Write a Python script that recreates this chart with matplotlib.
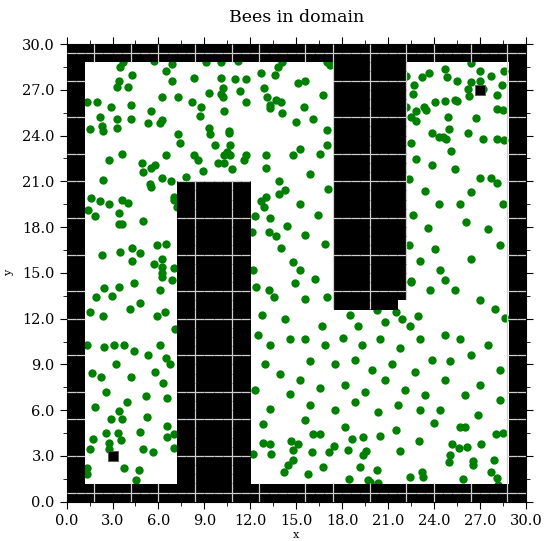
import numpy as np
import matplotlib.pyplot as plt
from matplotlib.collections import LineCollection
from matplotlib.ticker import MultipleLocator, FormatStrFormatter

# --- domain: 50 x 50 cells of 0.6 ---
cell = 0.6
n_cells = 50
# wall blocks (col0, col1, row0, row1), end exclusive
walls = [
    (0, 50, 0, 2), (0, 50, 48, 50), (0, 2, 0, 50), (48, 50, 0, 50),
    (12, 20, 0, 35),
    (29, 36, 21, 48),
    (36, 37, 22, 48),
]
# cell boundaries where the wall image shows light seams
seam_cols = [3, 7, 10, 14, 18, 21, 26, 29, 33, 37, 40, 44, 48]
seam_rows = [1, 5, 9, 12, 16, 20, 23, 27, 31, 35, 38, 42, 46, 49]

# hives (black squares)
hive_x = [3.0, 27.0]
hive_y = [3.0, 27.0]

# bee positions, region by region
# top-left part
bees_tl_x = [3.5, 3.7, 5.7, 6.9, 9.1, 10.1, 11.2, 12.7, 13.8, 14.1,
             4.3, 6.5, 8.3, 10.1, 11.0, 11.7, 13.6, 6.9, 3.4, 3.3,
             4.0, 10.2, 12.9, 6.2, 7.3, 9.3, 10.1, 10.2, 11.3, 13.1,
             13.3, 13.7, 14.0, 13.3, 1.35, 2.0, 2.9, 4.2, 8.2, 8.8,
             11.7, 5.5, 10.3, 14.1, 2.2, 3.3, 4.2, 8.7, 15.0, 1.5,
             2.3, 2.35, 3.3, 5.3, 6.1, 6.2, 7.3, 9.3, 9.4, 10.6,
             10.6, 7.4, 9.7, 10.7, 3.6, 2.8, 6.5, 8.3, 8.6, 10.5,
             10.3, 10.7, 9.9, 10.3, 11.6, 11.7, 13.0, 13.0, 14.8, 4.9,
             5.8, 5.5, 5.0, 8.9, 10.8, 2.4, 6.2, 6.8, 7.8, 5.45,
             5.5, 13.9, 1.6, 2.2, 2.8, 3.6, 4.0, 1.4, 1.85, 3.4,
             7.0, 7.0, 7.2, 5.0, 3.4, 3.6, 12.7, 13.0, 12.9, 13.9,
             14.3, 12.3, 13.3, 14.4, 12.1, 13.2, 13.7, 2.3, 3.5, 4.3,
             4.8, 5.9, 6.5, 4.3, 5.7, 6.2, 6.2, 7.0, 6.2, 14.0,
             14.8, 12.2]
bees_tl_y = [28.5, 28.8, 28.9, 28.7, 28.8, 28.8, 28.9, 28.1, 28.5, 28.8,
             28.0, 28.2, 27.8, 27.8, 27.7, 27.7, 28.0, 27.6, 27.6, 27.2,
             27.2, 27.1, 27.1, 26.5, 26.5, 26.8, 26.7, 26.5, 26.9, 26.5,
             26.0, 26.3, 26.2, 25.8, 26.2, 26.2, 25.9, 26.0, 26.2, 25.9,
             26.2, 25.6, 25.6, 25.5, 25.2, 25.1, 25.1, 25.3, 24.9, 24.4,
             24.6, 24.3, 24.5, 24.8, 24.8, 25.0, 24.1, 24.5, 24.1, 24.3,
             24.2, 23.5, 23.4, 23.4, 22.8, 22.4, 22.7, 22.7, 22.4, 22.9,
             22.7, 22.7, 22.2, 22.2, 22.4, 22.7, 22.7, 21.9, 22.7, 22.2,
             22.1, 21.9, 21.6, 21.7, 21.8, 21.1, 21.2, 21.0, 21.3, 20.8,
             20.6, 21.0, 19.9, 19.7, 19.5, 19.8, 19.6, 19.1, 18.7, 18.9,
             20.0, 19.8, 19.3, 18.4, 18.2, 18.2, 19.7, 20.0, 19.3, 20.2,
             20.4, 18.7, 18.6, 18.1, 17.7, 17.7, 17.4, 16.2, 16.4, 16.6,
             16.3, 16.8, 16.9, 15.8, 15.6, 15.9, 15.4, 15.3, 15.0, 16.6,
             15.7, 15.2]

# top-right part
bees_tr_x = [17.0, 17.2, 16.75, 17.0, 17.0, 15.5, 16.1, 15.6, 15.1,
             22.2, 22.7, 23.2, 23.7, 22.6, 22.2, 22.8, 23.35, 23.5, 24.1,
             22.5, 22.8, 23.9, 22.5, 24.3,
             26.4, 24.7, 27.0, 27.7, 28.6, 24.85, 25.5, 26.4, 26.2, 26.3,
             27.0, 27.2, 28.1, 28.45, 24.7, 25.4, 25.5, 28.1, 28.5, 24.9,
             26.75, 25.0, 26.2, 24.6, 24.8, 27.2, 28.1, 28.6, 25.1]
bees_tr_y = [28.8, 28.6, 26.65, 24.35, 23.4, 25.9, 25.1, 27.6, 27.45,
             27.9, 27.3, 27.85, 28.1, 26.7, 25.9, 25.6, 25.9, 25.7, 26.2,
             25.2, 24.95, 24.15, 23.5, 23.9,
             28.75, 28.35, 28.2, 27.9, 28.2, 27.85, 27.6, 27.5, 27.05, 26.6,
             27.6, 27.05, 26.65, 27.3, 26.25, 26.35, 26.25, 25.75, 25.7, 25.2,
             25.15, 24.4, 24.15, 23.9, 23.8, 23.8, 23.8, 23.7, 23.0]

# middle band beside the upper block
bees_mid_x = [15.25, 16.55, 15.9, 17.1, 15.25, 16.4, 15.6, 16.9, 15.25,
              16.2, 15.6, 17.0, 14.9, 12.4, 13.2, 13.55, 6.2, 6.9,
              22.8, 23.9, 22.4, 23.4, 24.3, 22.6, 23.6, 22.4, 24.1,
              23.1, 24.4, 23.75, 22.5,
              25.4, 27.0, 27.7, 28.1, 26.4, 28.5, 25.7, 26.1, 27.5,
              28.3, 26.4, 24.7, 25.4, 27.0, 28.0, 28.65]
bees_mid_y = [23.1, 22.8, 21.5, 20.5, 19.5, 18.8, 17.5, 16.9, 15.2,
              14.6, 13.3, 13.45, 14.35, 14.1, 13.85, 13.4, 14.75, 14.55,
              22.45, 22.1, 21.15, 20.35, 19.5, 18.8, 17.95, 16.85, 16.55,
              15.75, 15.2, 13.9, 14.45,
              21.8, 21.25, 21.25, 20.9, 20.3, 19.5, 19.5, 18.35, 17.85,
              16.85, 15.9, 14.55, 13.9, 13.25, 12.6, 12.05]

# lower-left part
bees_bl_x = [2.45, 2.95, 3.4, 1.9, 4.4, 6.1, 1.5, 2.35, 4.15, 4.8,
             5.9, 6.4, 7.1, 1.3, 2.45, 3.1, 3.75, 4.4, 5.3, 6.1,
             6.5, 1.65, 2.25, 3.2, 4.2, 5.8, 6.3, 6.75, 2.6, 3.95,
             5.2, 6.55, 1.85,
             3.4, 2.9, 3.6, 5.25, 2.55, 3.35, 1.7, 3.55, 2.75, 4.8,
             1.5, 2.75, 5.0, 5.65, 3.75, 4.75, 1.3, 1.3, 4.55, 6.55,
             6.55, 7.0, 7.0]
bees_bl_y = [14.0, 13.5, 14.1, 13.45, 14.35, 13.85, 12.45, 12.2, 12.6, 13.0,
             12.2, 12.45, 11.3, 10.3, 10.15, 10.3, 10.3, 9.85, 9.65, 10.3,
             9.45, 8.45, 8.2, 9.0, 8.2, 8.5, 7.75, 9.0, 7.2, 6.55,
             6.9, 6.8, 6.2,
             5.95, 5.45, 5.45, 5.55, 4.5, 4.5, 4.1, 4.05, 3.85, 4.6,
             3.45, 3.45, 3.45, 3.25, 2.2, 2.1, 2.2, 1.8, 1.45, 4.95,
             4.25, 4.45, 3.55]

# lower-right part
bees_br_x = [16.7, 22.5, 18.5, 20.3, 21.5, 19.05, 20.8, 21.9, 22.45, 22.95,
             12.75, 14.25, 12.5, 13.3, 14.6, 12.95, 13.95, 12.3, 14.6, 13.3,
             15.6, 16.9, 18.05, 19.3, 20.5, 21.8, 23.1, 15.9, 17.55, 18.85,
             19.95, 21.25, 22.75, 23.9, 15.25, 16.55, 18.2, 19.5, 20.8, 22.1,
             23.4, 15.9, 17.55, 18.85, 20.35, 21.65, 23.1, 15.6, 18.2, 21.5,
             23.0,
             24.7, 25.7, 27.5, 26.4, 25.05, 28.3, 24.7, 27.0, 26.0, 28.3,
             24.4, 26.9,
             12.85, 12.2, 12.85, 13.3, 13.35, 14.2, 14.45, 14.65, 14.8, 15.1,
             14.8, 16.0, 15.8, 16.75, 16.1, 16.55, 17.45, 17.15, 18.4, 18.65,
             19.35, 19.55, 19.35, 19.15, 19.8, 20.3, 20.5, 20.35, 21.8, 22.45,
             23.2, 23.3, 24.0, 25.0, 25.05, 25.2, 25.7, 26.05, 25.65, 26.15,
             25.9, 26.55, 26.55, 27.1, 27.7, 27.95, 28.1, 28.2, 28.05, 28.5,
             18.45, 19.7]
bees_br_y = [11.5, 14.4, 12.25, 12.55, 12.45, 11.5, 11.75, 12.0, 11.5, 12.15,
             12.25, 11.95, 10.95, 10.3, 10.65, 9.0, 8.35, 7.35, 7.05, 6.05,
             10.65, 10.3, 10.75, 10.3, 10.65, 10.1, 10.65, 9.2, 9.0, 9.3,
             8.65, 9.0, 8.5, 9.3, 8.0, 7.45, 7.65, 7.2, 8.0, 7.35,
             7.0, 6.35, 6.0, 6.55, 5.9, 6.35, 6.0, 5.35, 4.9, 4.7,
             4.0,
             10.95, 10.65, 10.3, 9.65, 9.2, 8.65, 8.0, 7.65, 7.0, 6.7,
             6.0, 5.7,
             5.1, 3.15, 3.85, 3.8, 3.15, 1.95, 2.4, 4.0, 3.4, 3.8,
             2.75, 3.25, 1.8, 2.3, 4.45, 4.45, 3.65, 3.25, 3.4, 4.1,
             4.25, 3.35, 3.05, 2.3, 1.3, 2.1, 4.3, 1.2, 3.35, 1.6,
             1.95, 1.6, 5.15, 2.6, 3.05, 3.8, 4.9, 4.9, 3.55, 3.6,
             1.5, 2.7, 2.4, 3.8, 1.95, 2.75, 1.55, 1.1, 4.45, 4.5,
             1.5, 1.4]

bees_x = bees_tl_x + bees_tr_x + bees_mid_x + bees_bl_x + bees_br_x
bees_y = bees_tl_y + bees_tr_y + bees_mid_y + bees_bl_y + bees_br_y

# --- wall mask ---
mask = np.zeros((n_cells, n_cells), dtype=bool)
for c0, c1, r0, r1 in walls:
    mask[r0:r1, c0:c1] = True

rgba = np.zeros((n_cells, n_cells, 4))
rgba[mask] = (0, 0, 0, 1)

segs = []
for c in seam_cols:
    for r in range(n_cells):
        left = mask[r, c - 1] if c > 0 else False
        right = mask[r, c] if c < n_cells else False
        if left or right:
            segs.append([(c * cell, r * cell), (c * cell, (r + 1) * cell)])
for r in seam_rows:
    for c in range(n_cells):
        below = mask[r - 1, c] if r > 0 else False
        above = mask[r, c] if r < n_cells else False
        if below or above:
            segs.append([(c * cell, r * cell), ((c + 1) * cell, r * cell)])

plt.rcParams['font.family'] = 'DejaVu Serif'

fig = plt.figure(figsize=(5.46, 5.41), dpi=100)
ax = fig.add_axes([0.122, 0.0726, 0.841, 0.846])

ax.scatter(bees_x, bees_y, s=36, c='#008000', linewidths=0, zorder=2)
ax.imshow(rgba, origin='lower', extent=(0, 30, 0, 30),
          interpolation='nearest', aspect='auto', zorder=3)
ax.add_collection(LineCollection(segs, colors='#cfcfcf', linewidths=0.9,
                                 capstyle='butt', zorder=4))
ax.plot(hive_x, hive_y, 's', color='black', markersize=6.5,
        markeredgecolor='#555555', markeredgewidth=0.6, zorder=5)

ax.set_xlim(0, 30)
ax.set_ylim(0, 30)
ax.xaxis.set_major_locator(MultipleLocator(3))
ax.yaxis.set_major_locator(MultipleLocator(3))
ax.xaxis.set_minor_locator(MultipleLocator(1.5))
ax.yaxis.set_minor_locator(MultipleLocator(1.5))
ax.xaxis.set_major_formatter(FormatStrFormatter('%.1f'))
ax.yaxis.set_major_formatter(FormatStrFormatter('%.1f'))
ax.tick_params(which='both', direction='out', top=True, right=True,
               labelsize=10.5)
ax.tick_params(which='major', length=5)
ax.tick_params(which='minor', length=3)

ax.set_title('Bees in domain', fontsize=12.5, pad=16)
ax.set_xlabel('x', fontsize=8, labelpad=2)
ax.set_ylabel('y', fontsize=8, labelpad=6)

fig.savefig('out.png', dpi=100)
